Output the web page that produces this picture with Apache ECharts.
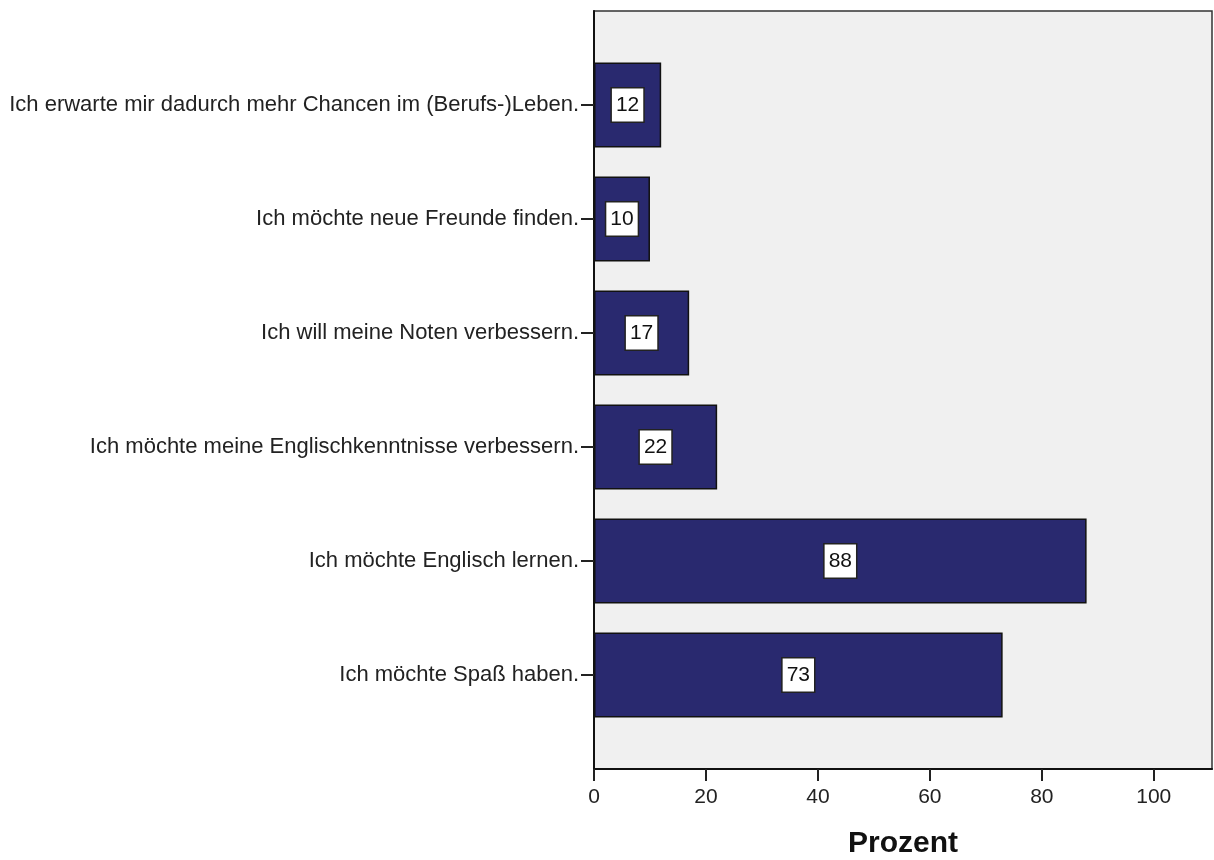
<!DOCTYPE html>
<html>
<head>
<meta charset="utf-8">
<script src="https://cdn.jsdelivr.net/npm/echarts@6/dist/echarts.min.js"></script>
<style>
  html, body { margin: 0; padding: 0; background: #fff; }
  #chart { width: 1214px; height: 860px; }
</style>
</head>
<body>
<div id="chart"></div>
<script>
var categories = [
    'Ich erwarte mir dadurch mehr Chancen im (Berufs-)Leben.',
    'Ich möchte neue Freunde finden.',
    'Ich will meine Noten verbessern.',
    'Ich möchte meine Englischkenntnisse verbessern.',
    'Ich möchte Englisch lernen.',
    'Ich möchte Spaß haben.'
];
var percentValues = [12, 10, 17, 22, 88, 73];
var xTicks = [0, 20, 40, 60, 80, 100];

var chart = echarts.init(document.getElementById('chart'));
var font = '"Liberation Sans", Arial, sans-serif';

var option = {
    animation: false,
    grid: [
        {   // frame with grey background
            left: 594, right: 2, top: 11, bottom: 91,
            outerBoundsMode: 'none',
            show: true,
            backgroundColor: '#f0f0f0',
            borderColor: '#333',
            borderWidth: 1.5
        },
        {   // bars
            left: 594, right: 2, top: 48, height: 684,
            outerBoundsMode: 'none'
        }
    ],
    xAxis: [
        {
            gridIndex: 0,
            type: 'value',
            min: 0, max: 110.4,
            name: 'Prozent',
            nameLocation: 'middle',
            nameGap: 60,
            nameTextStyle: { fontFamily: font, fontSize: 30, fontWeight: 'bold', color: '#111' },
            axisLine: { show: true, lineStyle: { color: '#111', width: 2 } },
            axisTick: { show: true, length: 12, lineStyle: { color: '#222', width: 2 },
                customValues: xTicks },
            axisLabel: { fontFamily: font, fontSize: 21, color: '#222', margin: 18,
                customValues: xTicks },
            splitLine: { show: false }
        },
        {
            gridIndex: 1,
            type: 'value',
            min: 0, max: 110.4,
            show: false
        }
    ],
    yAxis: [
        {
            gridIndex: 0,
            type: 'value',
            axisLine: { show: true, lineStyle: { color: '#111', width: 2 } },
            axisTick: { show: false },
            axisLabel: { show: false },
            splitLine: { show: false }
        },
        {
            gridIndex: 1,
            type: 'category',
            inverse: true,
            data: categories,
            axisLine: { show: false },
            axisTick: { show: true, alignWithLabel: true, length: 13,
                lineStyle: { color: '#222', width: 2 } },
            axisLabel: { fontFamily: font, fontSize: 22, color: '#222', margin: 15 }
        }
    ],
    series: [
        {
            type: 'bar',
            xAxisIndex: 1,
            yAxisIndex: 1,
            data: percentValues,
            barWidth: 85,
            itemStyle: { color: '#29296f', borderColor: '#111', borderWidth: 1.5 },
            label: {
                show: true,
                position: 'inside',
                fontFamily: font,
                fontSize: 21,
                color: '#111',
                backgroundColor: '#fff',
                borderColor: '#222',
                borderWidth: 1.5,
                padding: [7, 4, 5, 4]
            }
        }
    ]
};
chart.setOption(option);
</script>
</body>
</html>
